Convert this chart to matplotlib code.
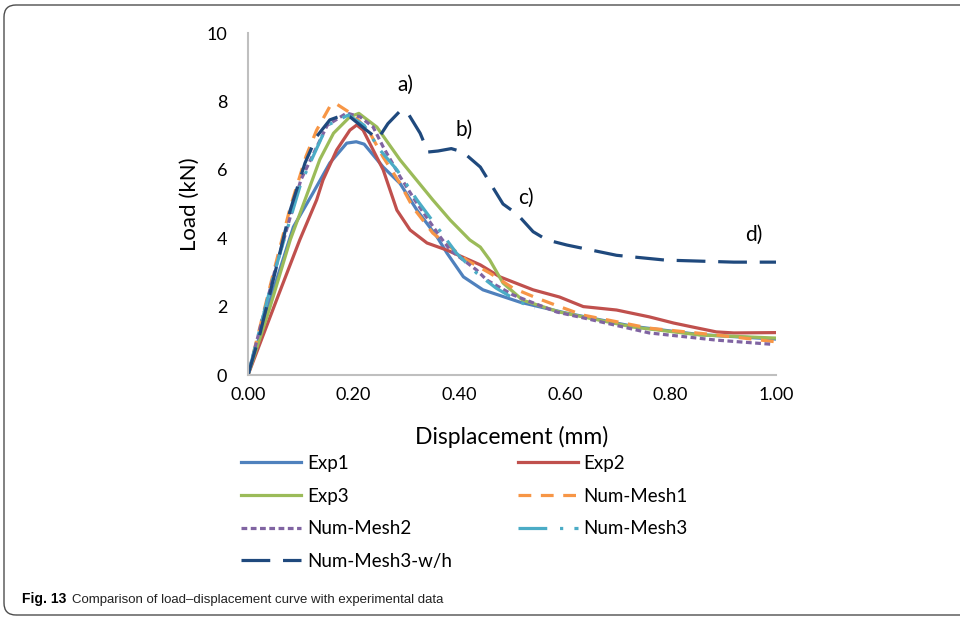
import matplotlib
matplotlib.use('Agg')
import matplotlib.pyplot as plt
from matplotlib.patches import FancyBboxPatch
from matplotlib.transforms import IdentityTransform

# Load-displacement values (mm, kN)
exp1_x = [0, 0.042, 0.086, 0.123, 0.155, 0.187, 0.205, 0.22, 0.256, 0.288, 0.32, 0.358,
          0.377, 0.408, 0.445, 0.515, 0.60, 0.73, 0.856, 1.0]
exp1_y = [0, 2.19, 4.33, 5.32, 6.2, 6.78, 6.82, 6.75, 6.08, 5.6, 4.82, 4.04,
          3.56, 2.87, 2.49, 2.13, 1.82, 1.42, 1.18, 1.05]

exp2_x = [0, 0.054, 0.098, 0.13, 0.142, 0.168, 0.193, 0.206, 0.218, 0.256, 0.282, 0.307,
          0.339, 0.377, 0.44, 0.477, 0.54, 0.59, 0.635, 0.698, 0.76, 0.806, 0.843,
          0.887, 0.92, 1.0]
exp2_y = [0, 2.19, 3.95, 5.12, 5.7, 6.58, 7.16, 7.31, 7.16, 6.0, 4.82, 4.24,
          3.86, 3.65, 3.22, 2.87, 2.49, 2.28, 2.0, 1.9, 1.7, 1.52, 1.4,
          1.26, 1.23, 1.24]

exp3_x = [0, 0.042, 0.08, 0.117, 0.136, 0.162, 0.193, 0.21, 0.244, 0.288, 0.35, 0.383,
          0.42, 0.44, 0.458, 0.483, 0.52, 0.59, 0.73, 0.856, 1.0]
exp3_y = [0, 2.0, 3.95, 5.5, 6.3, 7.07, 7.55, 7.65, 7.25, 6.29, 5.12, 4.53,
          3.95, 3.74, 3.36, 2.69, 2.19, 1.84, 1.4, 1.17, 1.08]

mesh1_x = [0, 0.05, 0.08, 0.11, 0.13, 0.155, 0.165, 0.2, 0.23, 0.256, 0.288, 0.3125,
           0.35, 0.414, 0.458, 0.502, 0.547, 0.59, 0.635, 0.76, 0.887, 1.0]
mesh1_y = [0, 3.1, 4.9, 6.4, 7.16, 7.85, 7.95, 7.6, 7.1, 6.37, 5.6, 4.9,
           4.15, 3.36, 2.98, 2.54, 2.25, 2.0, 1.75, 1.37, 1.17, 0.97]

mesh2_x = [0, 0.05, 0.1, 0.15, 0.187, 0.212, 0.237, 0.256, 0.288, 0.32, 0.364, 0.383,
           0.433, 0.452, 0.502, 0.585, 0.635, 0.76, 0.887, 0.99]
mesh2_y = [0, 3.0, 5.7, 7.3, 7.66, 7.55, 7.25, 6.67, 5.8, 5.02, 4.04, 3.65,
           3.07, 2.78, 2.34, 1.84, 1.67, 1.23, 1.02, 0.9]

mesh3_x = [0, 0.05, 0.1, 0.15, 0.19, 0.22, 0.25, 0.282, 0.32, 0.358, 0.395, 0.433,
           0.47, 0.515, 0.543]
mesh3_y = [0, 3.0, 5.6, 7.3, 7.6, 7.3, 6.58, 6.0, 5.12, 4.33, 3.56, 2.98,
           2.54, 2.13, 1.96]

wh_x = [0, 0.023, 0.054, 0.08, 0.108, 0.13, 0.155, 0.18, 0.193, 0.225, 0.246, 0.265,
        0.29, 0.305, 0.326, 0.341, 0.36, 0.385, 0.407, 0.44, 0.483, 0.51, 0.54,
        0.566, 0.604, 0.698, 0.79, 0.92, 1.0]
wh_y = [0, 1.23, 3.17, 4.82, 6.2, 6.97, 7.46, 7.6, 7.55, 7.15, 6.9, 7.35,
        7.75, 7.6, 7.07, 6.52, 6.55, 6.62, 6.52, 6.08, 5.0, 4.7, 4.19,
        3.95, 3.8, 3.5, 3.36, 3.3, 3.3]

stage_labels = ['a)', 'b)', 'c)', 'd)']
stage_x = [0.299, 0.409, 0.527, 0.958]
stage_y = [8.48, 7.16, 5.18, 4.09]

x_ticks = [0, 0.2, 0.4, 0.6, 0.8, 1.0]
y_ticks = [0, 2, 4, 6, 8, 10]

plt.rcParams['font.family'] = ['Lato', 'DejaVu Sans']

fig = plt.figure(figsize=(9.6, 6.17), dpi=100)
ax = fig.add_axes([248 / 960, 1 - 375 / 617, 528 / 960, 342 / 617])

lw = 2.3
style = dict(lw=lw, solid_joinstyle='round', dash_joinstyle='round')
l1, = ax.plot(exp1_x, exp1_y, color='#4F81BD', label='Exp1', **style)
l2, = ax.plot(exp2_x, exp2_y, color='#C0504D', label='Exp2', **style)
l3, = ax.plot(exp3_x, exp3_y, color='#9BBB59', label='Exp3', **style)
l4, = ax.plot(mesh1_x, mesh1_y, color='#F79646', dashes=(4, 3), label='Num-Mesh1', **style)
l5, = ax.plot(mesh2_x, mesh2_y, color='#8064A2', dashes=(1.8, 1.1), label='Num-Mesh2', **style)
l6, = ax.plot(mesh3_x, mesh3_y, color='#4BACC6', dashes=(9, 4, 1, 3.5), label='Num-Mesh3', **style)
l7, = ax.plot(wh_x, wh_y, color='#1F497D', dashes=(9, 4), label='Num-Mesh3-w/h', **style)

for lab, sx, sy in zip(stage_labels, stage_x, stage_y):
    ax.text(sx, sy, lab, fontsize=15, ha='center', va='center')

ax.set_xlim(0, 1.0)
ax.set_ylim(0, 10)
ax.set_xticks(x_ticks)
ax.set_xticklabels(['%.2f' % v for v in x_ticks])
ax.set_yticks(y_ticks)
ax.tick_params(axis='both', length=0, labelsize=13)
ax.tick_params(axis='x', pad=9)
ax.tick_params(axis='y', pad=15)
for side in ['top', 'right']:
    ax.spines[side].set_visible(False)
for side in ['left', 'bottom']:
    ax.spines[side].set_color('#BFBFBF')
    ax.spines[side].set_linewidth(1.5)

ax.set_xlabel('Displacement (mm)', fontsize=16.5, va='center')
ax.xaxis.set_label_coords(0.5, -0.181)
ax.set_ylabel('Load (kN)', fontsize=16, va='center')
ax.yaxis.set_label_coords(-0.11, 0.5)

# legend filled column-wise, so reorder to get the row-wise look
handles = [l1, l3, l5, l7, l2, l4, l6]
fig.legend(handles, [h.get_label() for h in handles], ncol=2, loc='upper left',
           bbox_to_anchor=(241 / 960, 1 - 455 / 617), frameon=False, fontsize=13.5,
           borderpad=0, borderaxespad=0, handlelength=3.2, handletextpad=0.32,
           columnspacing=3.5, labelspacing=0.83)

# caption box and caption
box = FancyBboxPatch((4, 2), 1000, 610, boxstyle='round,pad=0,rounding_size=12',
                     transform=IdentityTransform(), fill=False, ec='#4d4d4d', lw=1)
fig.patches.append(box)
fig.text(22 / 960, 1 - 603 / 617, 'Fig. 13', fontsize=10, weight='bold',
         family='Liberation Sans', va='baseline')
fig.text(72 / 960, 1 - 603 / 617,
         'Comparison of load\u2013displacement curve with experimental data',
         fontsize=9.5, family='Liberation Sans', va='baseline', color='#222222')

fig.savefig('out.png', dpi=100)
